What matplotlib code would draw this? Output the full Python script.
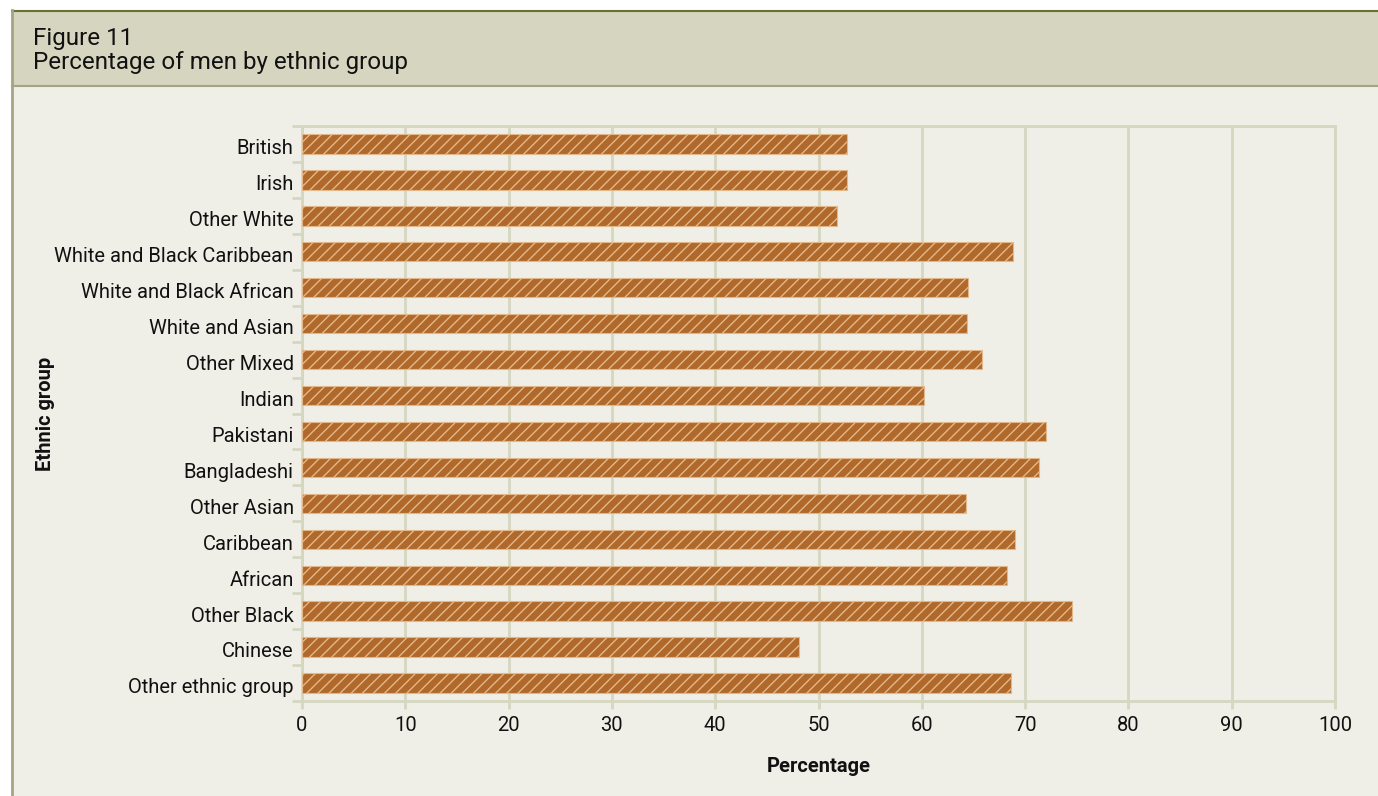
import matplotlib
matplotlib.use("Agg")
import matplotlib.pyplot as plt
from matplotlib.patches import Rectangle
import numpy as np

# === DATA ===
groups = ["British", "Irish", "Other White", "White and Black Caribbean",
          "White and Black African", "White and Asian", "Other Mixed", "Indian",
          "Pakistani", "Bangladeshi", "Other Asian", "Caribbean", "African",
          "Other Black", "Chinese", "Other ethnic group"]
pct_men = [52.8, 52.8, 51.8, 68.8, 64.5, 64.4, 65.8, 60.2,
           72.0, 71.3, 64.3, 69.0, 68.2, 74.5, 48.1, 68.6]
x_ticks = list(range(0, 101, 10))

# === STYLE ===
bg_body = "#f0efe7"
bg_head = "#d6d5bf"
grid_col = "#d6d7c0"
bar_col = "#b0692a"
hatch_col = "#e2b88a"

plt.rcParams["font.family"] = "Roboto"
plt.rcParams["hatch.linewidth"] = 1.0

W, H = 1378, 796
fig = plt.figure(figsize=(W / 100, H / 100), dpi=100)
fig.patch.set_facecolor("white")

# panel background + header band (figure pixel coords -> fractions)
def box(x0, y0, x1, y1, **kw):
    fig.patches.append(Rectangle((x0 / W, 1 - y1 / H), (x1 - x0) / W, (y1 - y0) / H,
                                 transform=fig.transFigure, zorder=-10, **kw))

box(12, 10, W, H, facecolor=bg_body, edgecolor="none")
box(12, 10, W, 86, facecolor=bg_head, edgecolor="none")
fig.add_artist(plt.Line2D([12 / W, 1], [1 - 10.5 / H] * 2, color="#6b7030", lw=1.5))
fig.add_artist(plt.Line2D([12 / W, 1], [1 - 86 / H] * 2, color="#a3a585", lw=1.5))
fig.add_artist(plt.Line2D([11.5 / W] * 2, [0, 1 - 10 / H], color="#a3a585", lw=2))

fig.text(33 / W, 1 - 45 / H, "Figure 11", fontsize=17.4, va="baseline", color="#111111")
fig.text(33 / W, 1 - 69 / H, "Percentage of men by ethnic group", fontsize=17.4,
         va="baseline", color="#111111")

# === PLOT ===
ax = fig.add_axes([302 / W, 1 - 701 / H, (1335 - 302) / W, (701 - 126) / H])
ax.set_facecolor(bg_body)
y = np.arange(len(groups))
ax.barh(y, pct_men, height=0.54, color=bar_col, edgecolor=hatch_col,
        hatch="///", linewidth=0.8, zorder=3)

ax.set_xlim(0, 100)
ax.set_ylim(len(groups) - 0.5, -0.5)
ax.set_xticks(x_ticks)
ax.set_xticklabels([str(v) for v in x_ticks], fontsize=14.5, color="#111111")
ax.set_yticks(y + 0.08)
ax.set_yticklabels(groups, fontsize=14.5, color="#111111")
ax.tick_params(axis="y", length=0, pad=6)
ax.set_yticks(np.arange(-0.5, len(groups), 1.0), minor=True)
ax.tick_params(axis="y", which="minor", length=7, width=2, color=grid_col)
ax.tick_params(axis="x", length=6, width=2, color=grid_col, pad=5)

ax.grid(axis="x", color=grid_col, linewidth=2, zorder=0)
ax.set_axisbelow(True)
for s in ax.spines.values():
    s.set_color(grid_col)
    s.set_linewidth(2)

ax.set_xlabel("Percentage", fontsize=14.5, fontweight="bold", labelpad=16, color="#111111")
ax.set_ylabel("Ethnic group", fontsize=14.5, fontweight="bold", color="#111111")
ax.yaxis.set_label_coords((55 - 302) / (1335 - 302), 0.5)

fig.savefig("out.png", dpi=100, facecolor=fig.get_facecolor())
